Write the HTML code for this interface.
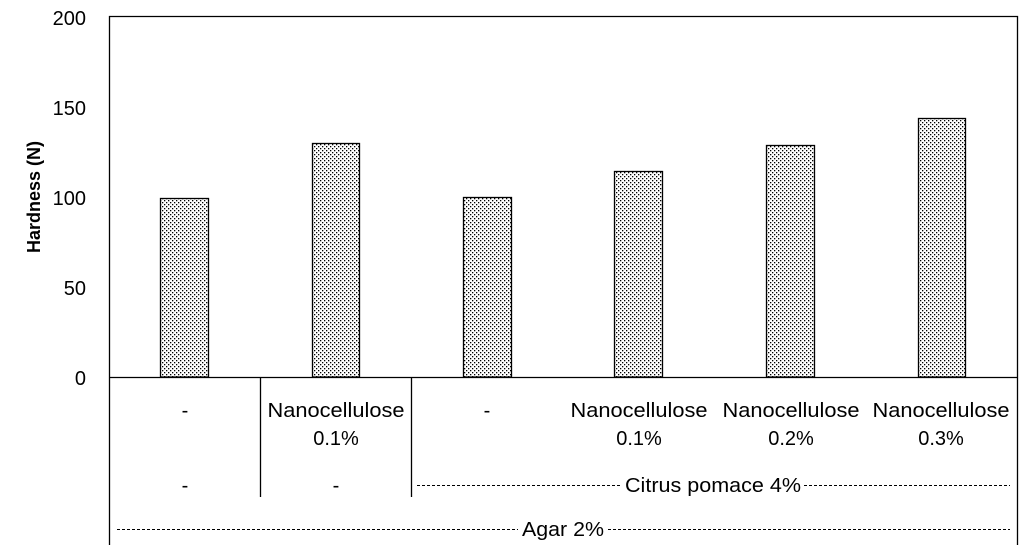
<!DOCTYPE html>
<html><head><meta charset="utf-8"><style>body{margin:0;background:#fff}svg{display:block}</style></head><body>
<svg width="1032" height="550" viewBox="0 0 1032 550" xmlns="http://www.w3.org/2000/svg" font-family="Liberation Sans, sans-serif" font-size="19">
<defs>
<pattern id="dots" width="4" height="4" patternUnits="userSpaceOnUse">
<rect width="4" height="4" fill="#fff"/>
<rect x="0" y="0" width="1.3" height="1.3" fill="#000"/>
<rect x="2" y="2" width="1.3" height="1.3" fill="#000"/>
</pattern>
</defs>
<rect width="1032" height="550" fill="#fff"/>
<g stroke="#000" stroke-width="1.3" fill="url(#dots)">
<rect x="160.5" y="198.5" width="48" height="178.5"/>
<rect x="312.5" y="143.5" width="47" height="233.5"/>
<rect x="463.5" y="197.5" width="48" height="179.5"/>
<rect x="614.5" y="171.5" width="48" height="205.5"/>
<rect x="766.5" y="145.5" width="48" height="231.5"/>
<rect x="918.5" y="118.5" width="47" height="258.5"/>
</g>
<g stroke="#000" stroke-width="1.3" fill="none">
<path d="M109.5 545 V16.5 H1017.5 V545"/>
<path d="M109 377.5 H1017"/>
<path d="M260.5 377 V497 M411.5 377 V497"/>
</g>
<g stroke="#000" stroke-width="1" stroke-dasharray="3,2">
<path d="M417 485.5 H622 M804 485.5 H1010"/>
<path d="M117 529.5 H518 M608 529.5 H1010"/>
</g>
<g text-anchor="end" font-size="20">
<text x="86" y="25">200</text>
<text x="86" y="115">150</text>
<text x="86" y="205">100</text>
<text x="86" y="295">50</text>
<text x="86" y="385">0</text>
</g>
<text transform="translate(40,197) rotate(-90)" text-anchor="middle" font-weight="bold" font-size="18">Hardness (N)</text>
<g text-anchor="middle" font-size="20">
<text x="185" y="417">-</text>
<text x="336" y="417" textLength="137" lengthAdjust="spacingAndGlyphs">Nanocellulose</text>
<text x="336" y="445">0.1%</text>
<text x="487" y="417">-</text>
<text x="639" y="417" textLength="137" lengthAdjust="spacingAndGlyphs">Nanocellulose</text>
<text x="639" y="445">0.1%</text>
<text x="791" y="417" textLength="137" lengthAdjust="spacingAndGlyphs">Nanocellulose</text>
<text x="791" y="445">0.2%</text>
<text x="941" y="417" textLength="137" lengthAdjust="spacingAndGlyphs">Nanocellulose</text>
<text x="941" y="445">0.3%</text>
<text x="185" y="492">-</text>
<text x="336" y="492">-</text>
<text x="713" y="492" textLength="176" lengthAdjust="spacingAndGlyphs">Citrus pomace 4%</text>
<text x="563" y="536" textLength="82" lengthAdjust="spacingAndGlyphs">Agar 2%</text>
</g>
</svg>
</body></html>
